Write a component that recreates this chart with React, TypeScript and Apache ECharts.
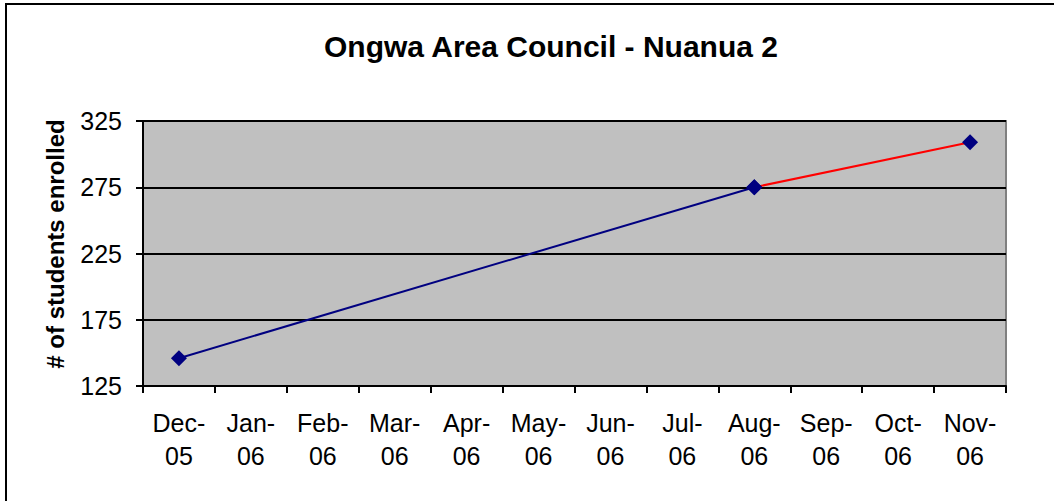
import React, { useEffect, useRef } from "react";
import * as echarts from "echarts";

const months = [
  "Dec-\n05", "Jan-\n06", "Feb-\n06", "Mar-\n06", "Apr-\n06", "May-\n06",
  "Jun-\n06", "Jul-\n06", "Aug-\n06", "Sep-\n06", "Oct-\n06", "Nov-\n06",
];
const enrolledFirst = [146, null, null, null, null, null, null, null, 275, null, null, null];
const enrolledSecond = [null, null, null, null, null, null, null, null, 275, null, null, 309];
const yTicks = { min: 125, max: 325, interval: 50 };
const titleText = "Ongwa Area Council - Nuanua 2";
const yName = "# of students enrolled";

const FONT = "'Liberation Sans', Arial, sans-serif";

export default function App() {
  const ref = useRef<HTMLDivElement>(null);
  useEffect(() => {
    if (!ref.current) return;
    const chart = echarts.init(ref.current, null, { renderer: "svg" });
    chart.setOption({
      animation: false,
      backgroundColor: "#ffffff",
      grid: {
        left: 143,
        right: 48,
        top: 121,
        bottom: 115,
        show: true,
        backgroundColor: "#c0c0c0",
        borderColor: "#808080",
        borderWidth: 2,
      },
      graphic: [
        {
          type: "rect",
          shape: { x: 6, y: 4, width: 1100, height: 600 },
          style: { fill: "none", stroke: "#000", lineWidth: 2 },
          z: 100,
        },
        {
          type: "text",
          x: 551,
          y: 46,
          style: {
            text: titleText,
            font: `bold 30px ${FONT}`,
            fill: "#000",
            align: "center",
            verticalAlign: "middle",
          },
        },
        {
          type: "text",
          x: 55,
          y: 244,
          rotation: Math.PI / 2,
          style: {
            text: yName,
            font: `bold 24px ${FONT}`,
            fill: "#000",
            align: "center",
            verticalAlign: "middle",
          },
        },
      ],
      xAxis: {
        type: "category",
        data: months,
        boundaryGap: true,
        axisLine: { show: true, lineStyle: { color: "#000", width: 2 } },
        axisTick: { show: true, length: 7, lineStyle: { color: "#000", width: 2 } },
        axisLabel: {
          color: "#000",
          fontFamily: FONT,
          fontSize: 25,
          lineHeight: 33,
          margin: 20,
          interval: 0,
        },
        splitLine: { show: false },
      },
      yAxis: {
        type: "value",
        min: yTicks.min,
        max: yTicks.max,
        interval: yTicks.interval,
        axisLine: { show: true, lineStyle: { color: "#000", width: 2 } },
        axisTick: { show: true, length: 7, lineStyle: { color: "#000", width: 2 } },
        axisLabel: {
          color: "#000",
          fontFamily: FONT,
          fontSize: 25,
          margin: 21,
        },
        splitLine: { show: true, lineStyle: { color: "#000", width: 2 } },
      },
      series: [
        {
          type: "line",
          data: enrolledFirst,
          connectNulls: true,
          symbol: "diamond",
          symbolSize: 16,
          lineStyle: { color: "#000080", width: 2 },
          itemStyle: { color: "#000080" },
          z: 3,
        },
        {
          type: "line",
          data: enrolledSecond,
          connectNulls: true,
          symbol: "diamond",
          symbolSize: 16,
          lineStyle: { color: "#ff0000", width: 2 },
          itemStyle: { color: "#000080" },
          z: 2,
        },
      ],
    });
    return () => chart.dispose();
  }, []);
  return (
    <div
      ref={ref}
      style={{ position: "fixed", left: 0, top: 0, width: 1054, height: 501 }}
    />
  );
}
